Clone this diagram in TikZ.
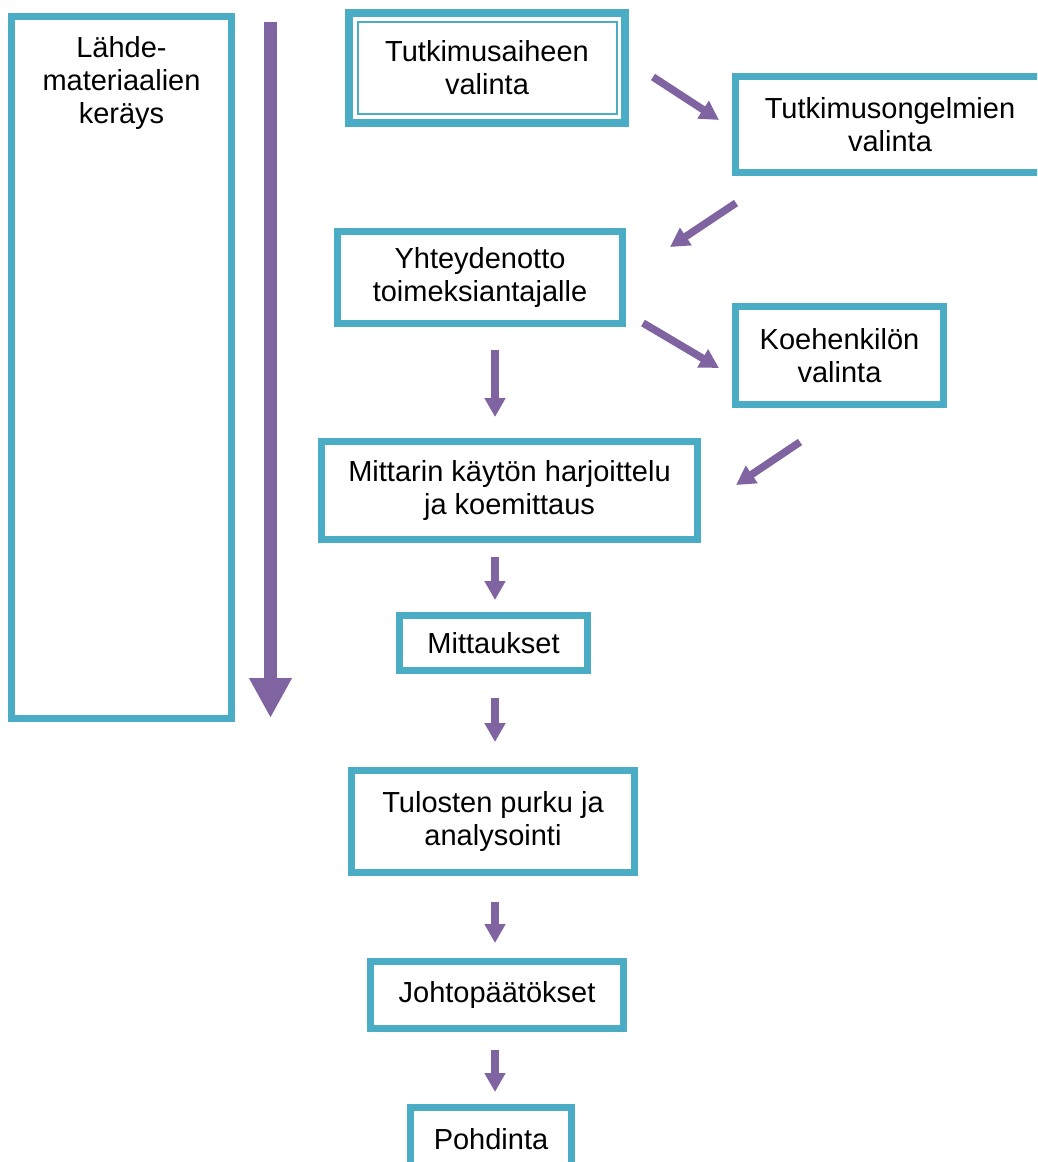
\documentclass[tikz,border=0pt]{standalone}
\usepackage{fontspec}
\setmainfont{Liberation Sans}
\usetikzlibrary{arrows.meta}
\definecolor{turkoosi}{HTML}{4BACC6}
\definecolor{violetti}{HTML}{8064A2}
\tikzset{
	laatikko/.style={draw=turkoosi, line width=7pt, fill=white, outer sep=0pt, inner sep=0pt, align=center, font=\fontsize{29}{33}\selectfont},
	nuoli/.style={-{Triangle[width=20pt,length=19pt]}, violetti, line width=7.5pt},
}
\begin{document}
\begin{tikzpicture}[x=1pt,y=-1pt]
			\clip (0,0) rectangle (1037,1162);
			\fill[white] (0,0) rectangle (1037,1162);
			\node[laatikko, minimum width=220pt, minimum height=702pt] (lahde) at (121.5,367.5) {};
			\node[align=center, anchor=north, inner sep=0pt, font=\fontsize{29}{33}\selectfont] (lahdeteksti) at (121.5,36) {Lähde-\\materiaalien\\keräys};
			\node[laatikko, line width=8pt, minimum width=276pt, minimum height=110pt] (aihe) at (487,68) {Tutkimusaiheen\\valinta};
			\draw[turkoosi, line width=2pt] ([shift={(9,9)}]aihe.north west) rectangle ([shift={(-8,-9)}]aihe.south east);
			\node[laatikko, minimum width=309pt, minimum height=96pt] (ongelma) at (890,124.5) {Tutkimusongelmien\\valinta};
			\node[laatikko, minimum width=285pt, minimum height=92pt] (yhteys) at (480,277.5) {Yhteydenotto\\toimeksiantajalle};
			\node[laatikko, minimum width=208pt, minimum height=98pt] (koe) at (839.5,355.5) {Koehenkilön\\valinta};
			\node[laatikko, minimum width=376pt, minimum height=98pt] (mittari) at (509.5,490.5) {Mittarin käytön harjoittelu\\ja koemittaus};
			\node[laatikko, minimum width=188pt, minimum height=55pt] (mittaukset) at (493.5,643) {Mittaukset};
			\node[laatikko, minimum width=283pt, minimum height=102pt] (tulokset) at (493,821.5) {Tulosten purku ja\\analysointi};
			\node[laatikko, minimum width=253pt, minimum height=67pt] (johto) at (497,995) {Johtopäätökset};
			\node[laatikko, minimum width=161pt, minimum height=63pt] (pohdinta) at (491,1139) {Pohdinta};
			\coordinate (iso1) at (270.5,22);
			\coordinate (iso2) at (270.5,718);
			\draw[-{Triangle[width=40pt,length=40pt]}, violetti, line width=13pt] (iso1) -- (iso2);
			\coordinate (a1) at (653,77);
			\coordinate (a2) at (719,120);
			\coordinate (b1) at (736,203);
			\coordinate (b2) at (670,247);
			\coordinate (c1) at (643,323);
			\coordinate (c2) at (719,368);
			\coordinate (d1) at (800,442);
			\coordinate (d2) at (736,485);
			\draw[nuoli] (a1) -- (a2);
			\draw[nuoli] (b1) -- (b2);
			\draw[nuoli] (c1) -- (c2);
			\draw[nuoli] (d1) -- (d2);
			\coordinate (e1) at (495,350);
			\coordinate (e2) at (495,417);
			\coordinate (f1) at (495,557);
			\coordinate (f2) at (495,600);
			\coordinate (g1) at (495,698);
			\coordinate (g2) at (495,742);
			\coordinate (h1) at (495,902);
			\coordinate (h2) at (495,943);
			\coordinate (k1) at (495,1050);
			\coordinate (k2) at (495,1092);
			\draw[nuoli] (e1) -- (e2);
			\draw[nuoli] (f1) -- (f2);
			\draw[nuoli] (g1) -- (g2);
			\draw[nuoli] (h1) -- (h2);
			\draw[nuoli] (k1) -- (k2);
		\end{tikzpicture}
\end{document}
